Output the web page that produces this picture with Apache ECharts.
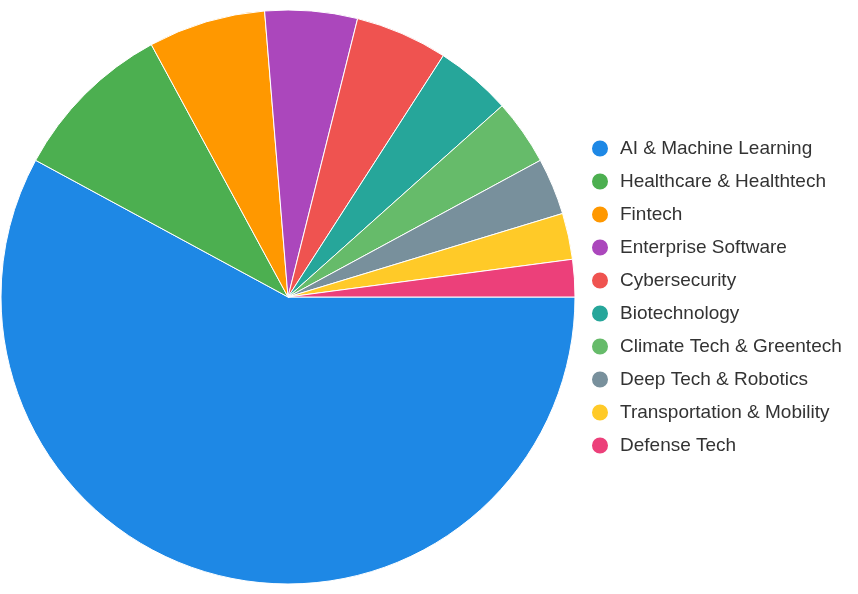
<!DOCTYPE html>
<html>
<head>
<meta charset="utf-8">
<script src="https://cdn.jsdelivr.net/npm/echarts@6/dist/echarts.min.js"></script>
<style>
  html, body { margin: 0; padding: 0; background: #fff; }
  #chart { width: 858px; height: 594px; }
</style>
</head>
<body>
<div id="chart"></div>
<script>
var categories = [
  'AI & Machine Learning',
  'Healthcare & Healthtech',
  'Fintech',
  'Enterprise Software',
  'Cybersecurity',
  'Biotechnology',
  'Climate Tech & Greentech',
  'Deep Tech & Robotics',
  'Transportation & Mobility',
  'Defense Tech'
]
var values = [57.9, 9.2, 6.6, 5.2, 5.2, 4.3, 3.7, 3.2, 2.6, 2.1]
var colors = ['#1E88E5', '#4CAF50', '#FF9800', '#AB47BC', '#EF5350',
  '#26A69A', '#66BB6A', '#78909C', '#FFCA28', '#EC407A']

var pieData = categories.map(function (name, i) {
  return { name: name, value: values[i] }
})

var myChart = echarts.init(document.getElementById('chart'))
var option = {
  color: colors,
  animation: false,
  legend: {
    orient: 'vertical',
    left: 585,
    top: 'middle',
    icon: 'circle',
    itemWidth: 30,
    itemHeight: 18,
    itemGap: 13,
    textStyle: {
      color: '#333',
      fontSize: 19,
      fontFamily: 'Arial, "Liberation Sans", sans-serif'
    },
    data: categories
  },
  series: [{
    type: 'pie',
    center: [288, 297],
    radius: 287,
    startAngle: 0,
    clockwise: true,
    label: { show: false },
    labelLine: { show: false },
    itemStyle: {
      borderColor: '#fff',
      borderWidth: 1
    },
    data: pieData
  }]
}
myChart.setOption(option)
</script>
</body>
</html>
